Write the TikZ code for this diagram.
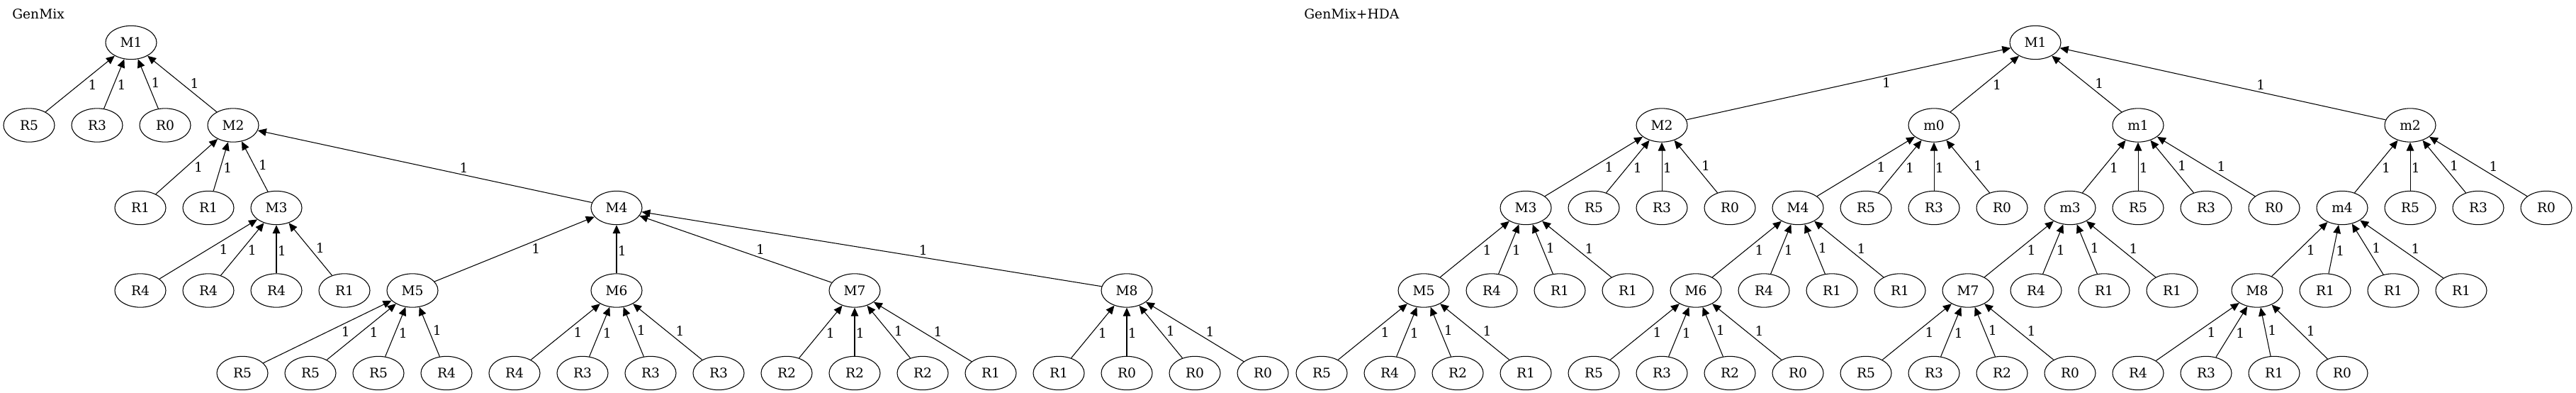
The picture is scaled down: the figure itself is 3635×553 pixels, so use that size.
\documentclass[tikz,border=0pt]{standalone}
\usepackage{fontspec}
\setmainfont{DejaVu Serif}
\usetikzlibrary{arrows.meta, shapes.geometric}
\tikzstyle{gNode} = [ellipse, draw=black, line width=0.8pt, minimum width=54pt, minimum height=35.5pt, inner sep=0pt, font=\fontsize{14pt}{17pt}\selectfont]
\tikzstyle{gTitle} = [anchor=west, inner sep=0pt, font=\fontsize{14pt}{17pt}\selectfont]
\tikzstyle{gArrow} = [line width=0.8pt, -{Triangle[length=9pt, width=8pt]}]
\tikzstyle{lblR} = [pos=0.6, anchor=north west, inner sep=1pt, font=\fontsize{14pt}{17pt}\selectfont]
\tikzstyle{lblL} = [pos=0.4, anchor=south west, inner sep=1pt, font=\fontsize{14pt}{17pt}\selectfont]
\begin{document}
\begin{tikzpicture}[x=0.75pt, y=-0.75pt, node distance=72pt]
    \useasboundingbox (0,0) rectangle (3635,553);

    \node (gTitleNode) [gTitle] at (17,20) {GenMix};
    \node (gM1) [gNode] at (185,60) {M1};
    \node (gM1r5) [gNode] at (41,176.5) {R5};
    \node (gM1r3) [gNode, right of=gM1r5] {R3};
    \node (gM1r0) [gNode, right of=gM1r3] {R0};
    \node (gM2) [gNode, right of=gM1r0] {M2};
    \node (gM2r1a) [gNode] at (198,293) {R1};
    \node (gM2r1b) [gNode, right of=gM2r1a] {R1};
    \node (gM3) [gNode, right of=gM2r1b] {M3};
    \node (gM4) [gNode] at (870,293) {M4};
    \node (gM3r4a) [gNode] at (198,409.5) {R4};
    \node (gM3r4b) [gNode, right of=gM3r4a] {R4};
    \node (gM3r4c) [gNode, right of=gM3r4b] {R4};
    \node (gM3r1) [gNode, right of=gM3r4c] {R1};
    \node (gM5) [gNode, right of=gM3r1] {M5};
    \node (gM6) [gNode] at (870,409.5) {M6};
    \node (gM7) [gNode] at (1206,409.5) {M7};
    \node (gM8) [gNode] at (1590,409.5) {M8};
    \node (gM5r5a) [gNode] at (342,526) {R5};
    \node (gM5r5b) [gNode, right of=gM5r5a] {R5};
    \node (gM5r5c) [gNode, right of=gM5r5b] {R5};
    \node (gM5r4) [gNode, right of=gM5r5c] {R4};
    \node (gM6r4) [gNode, right of=gM5r4] {R4};
    \node (gM6r3a) [gNode, right of=gM6r4] {R3};
    \node (gM6r3b) [gNode, right of=gM6r3a] {R3};
    \node (gM6r3c) [gNode, right of=gM6r3b] {R3};
    \node (gM7r2a) [gNode, right of=gM6r3c] {R2};
    \node (gM7r2b) [gNode, right of=gM7r2a] {R2};
    \node (gM7r2c) [gNode, right of=gM7r2b] {R2};
    \node (gM7r1) [gNode, right of=gM7r2c] {R1};
    \node (gM8r1) [gNode, right of=gM7r1] {R1};
    \node (gM8r0a) [gNode, right of=gM8r1] {R0};
    \node (gM8r0b) [gNode, right of=gM8r0a] {R0};
    \node (gM8r0c) [gNode, right of=gM8r0b] {R0};

    \node (hTitleNode) [gTitle] at (1840,20) {GenMix+HDA};
    \node (hM1) [gNode] at (2872,60) {M1};
    \node (hM2) [gNode] at (2345,176.5) {M2};
    \node (hm0) [gNode] at (2729,176.5) {m0};
    \node (hm1) [gNode] at (3017,176.5) {m1};
    \node (hm2) [gNode] at (3401,176.5) {m2};
    \node (hM3) [gNode] at (2153,293) {M3};
    \node (hM2r5) [gNode, right of=hM3] {R5};
    \node (hM2r3) [gNode, right of=hM2r5] {R3};
    \node (hM2r0) [gNode, right of=hM2r3] {R0};
    \node (hM4) [gNode, right of=hM2r0] {M4};
    \node (hm0r5) [gNode, right of=hM4] {R5};
    \node (hm0r3) [gNode, right of=hm0r5] {R3};
    \node (hm0r0) [gNode, right of=hm0r3] {R0};
    \node (hm3) [gNode, right of=hm0r0] {m3};
    \node (hm1r5) [gNode, right of=hm3] {R5};
    \node (hm1r3) [gNode, right of=hm1r5] {R3};
    \node (hm1r0) [gNode, right of=hm1r3] {R0};
    \node (hm4) [gNode, right of=hm1r0] {m4};
    \node (hm2r5) [gNode, right of=hm4] {R5};
    \node (hm2r3) [gNode, right of=hm2r5] {R3};
    \node (hm2r0) [gNode, right of=hm2r3] {R0};
    \node (hM5) [gNode] at (2009,409.5) {M5};
    \node (hM3r4) [gNode, right of=hM5] {R4};
    \node (hM3r1a) [gNode, right of=hM3r4] {R1};
    \node (hM3r1b) [gNode, right of=hM3r1a] {R1};
    \node (hM6) [gNode, right of=hM3r1b] {M6};
    \node (hM4r4) [gNode, right of=hM6] {R4};
    \node (hM4r1a) [gNode, right of=hM4r4] {R1};
    \node (hM4r1b) [gNode, right of=hM4r1a] {R1};
    \node (hM7) [gNode, right of=hM4r1b] {M7};
    \node (hm3r4) [gNode, right of=hM7] {R4};
    \node (hm3r1a) [gNode, right of=hm3r4] {R1};
    \node (hm3r1b) [gNode, right of=hm3r1a] {R1};
    \node (hM8) [gNode] at (3185,409.5) {M8};
    \node (hm4r1a) [gNode, right of=hM8] {R1};
    \node (hm4r1b) [gNode, right of=hm4r1a] {R1};
    \node (hm4r1c) [gNode, right of=hm4r1b] {R1};
    \node (hM5r5) [gNode] at (1865,526) {R5};
    \node (hM5r4) [gNode, right of=hM5r5] {R4};
    \node (hM5r2) [gNode, right of=hM5r4] {R2};
    \node (hM5r1) [gNode, right of=hM5r2] {R1};
    \node (hM6r5) [gNode, right of=hM5r1] {R5};
    \node (hM6r3) [gNode, right of=hM6r5] {R3};
    \node (hM6r2) [gNode, right of=hM6r3] {R2};
    \node (hM6r0) [gNode, right of=hM6r2] {R0};
    \node (hM7r5) [gNode, right of=hM6r0] {R5};
    \node (hM7r3) [gNode, right of=hM7r5] {R3};
    \node (hM7r2) [gNode, right of=hM7r3] {R2};
    \node (hM7r0) [gNode, right of=hM7r2] {R0};
    \node (hM8r4) [gNode, right of=hM7r0] {R4};
    \node (hM8r3) [gNode, right of=hM8r4] {R3};
    \node (hM8r1) [gNode, right of=hM8r3] {R1};
    \node (hM8r0) [gNode, right of=hM8r1] {R0};

    \draw [gArrow] (gM1r5) -- node[lblR] {1} (gM1);
    \draw [gArrow] (gM1r3) -- node[lblR] {1} (gM1);
    \draw [gArrow] (gM1r0) -- node[lblL] {1} (gM1);
    \draw [gArrow] (gM2) -- node[lblL] {1} (gM1);
    \draw [gArrow] (gM2r1a) -- node[lblR] {1} (gM2);
    \draw [gArrow] (gM2r1b) -- node[lblR] {1} (gM2);
    \draw [gArrow] (gM3) -- node[lblL] {1} (gM2);
    \draw [gArrow] (gM4) -- node[lblL] {1} (gM2);
    \draw [gArrow] (gM3r4a) -- node[lblR] {1} (gM3);
    \draw [gArrow] (gM3r4b) -- node[lblR] {1} (gM3);
    \draw [gArrow] (gM3r4c) -- node[lblR] {1} (gM3);
    \draw [gArrow] (gM3r1) -- node[lblL] {1} (gM3);
    \draw [gArrow] (gM5) -- node[lblR] {1} (gM4);
    \draw [gArrow] (gM6) -- node[lblR] {1} (gM4);
    \draw [gArrow] (gM7) -- node[lblL] {1} (gM4);
    \draw [gArrow] (gM8) -- node[lblL] {1} (gM4);
    \draw [gArrow] (gM5r5a) -- node[lblR] {1} (gM5);
    \draw [gArrow] (gM5r5b) -- node[lblR] {1} (gM5);
    \draw [gArrow] (gM5r5c) -- node[lblR] {1} (gM5);
    \draw [gArrow] (gM5r4) -- node[lblL] {1} (gM5);
    \draw [gArrow] (gM6r4) -- node[lblR] {1} (gM6);
    \draw [gArrow] (gM6r3a) -- node[lblR] {1} (gM6);
    \draw [gArrow] (gM6r3b) -- node[lblL] {1} (gM6);
    \draw [gArrow] (gM6r3c) -- node[lblL] {1} (gM6);
    \draw [gArrow] (gM7r2a) -- node[lblR] {1} (gM7);
    \draw [gArrow] (gM7r2b) -- node[lblR] {1} (gM7);
    \draw [gArrow] (gM7r2c) -- node[lblL] {1} (gM7);
    \draw [gArrow] (gM7r1) -- node[lblL] {1} (gM7);
    \draw [gArrow] (gM8r1) -- node[lblR] {1} (gM8);
    \draw [gArrow] (gM8r0a) -- node[lblR] {1} (gM8);
    \draw [gArrow] (gM8r0b) -- node[lblL] {1} (gM8);
    \draw [gArrow] (gM8r0c) -- node[lblL] {1} (gM8);

    \draw [gArrow] (hM2) -- node[lblR] {1} (hM1);
    \draw [gArrow] (hm0) -- node[lblR] {1} (hM1);
    \draw [gArrow] (hm1) -- node[lblL] {1} (hM1);
    \draw [gArrow] (hm2) -- node[lblL] {1} (hM1);
    \draw [gArrow] (hM3) -- node[lblR] {1} (hM2);
    \draw [gArrow] (hM2r5) -- node[lblR] {1} (hM2);
    \draw [gArrow] (hM2r3) -- node[lblR] {1} (hM2);
    \draw [gArrow] (hM2r0) -- node[lblL] {1} (hM2);
    \draw [gArrow] (hM4) -- node[lblR] {1} (hm0);
    \draw [gArrow] (hm0r5) -- node[lblR] {1} (hm0);
    \draw [gArrow] (hm0r3) -- node[lblR] {1} (hm0);
    \draw [gArrow] (hm0r0) -- node[lblL] {1} (hm0);
    \draw [gArrow] (hm3) -- node[lblR] {1} (hm1);
    \draw [gArrow] (hm1r5) -- node[lblR] {1} (hm1);
    \draw [gArrow] (hm1r3) -- node[lblL] {1} (hm1);
    \draw [gArrow] (hm1r0) -- node[lblL] {1} (hm1);
    \draw [gArrow] (hm4) -- node[lblR] {1} (hm2);
    \draw [gArrow] (hm2r5) -- node[lblR] {1} (hm2);
    \draw [gArrow] (hm2r3) -- node[lblL] {1} (hm2);
    \draw [gArrow] (hm2r0) -- node[lblL] {1} (hm2);
    \draw [gArrow] (hM5) -- node[lblR] {1} (hM3);
    \draw [gArrow] (hM3r4) -- node[lblR] {1} (hM3);
    \draw [gArrow] (hM3r1a) -- node[lblL] {1} (hM3);
    \draw [gArrow] (hM3r1b) -- node[lblL] {1} (hM3);
    \draw [gArrow] (hM6) -- node[lblR] {1} (hM4);
    \draw [gArrow] (hM4r4) -- node[lblR] {1} (hM4);
    \draw [gArrow] (hM4r1a) -- node[lblL] {1} (hM4);
    \draw [gArrow] (hM4r1b) -- node[lblL] {1} (hM4);
    \draw [gArrow] (hM7) -- node[lblR] {1} (hm3);
    \draw [gArrow] (hm3r4) -- node[lblR] {1} (hm3);
    \draw [gArrow] (hm3r1a) -- node[lblL] {1} (hm3);
    \draw [gArrow] (hm3r1b) -- node[lblL] {1} (hm3);
    \draw [gArrow] (hM8) -- node[lblR] {1} (hm4);
    \draw [gArrow] (hm4r1a) -- node[lblR] {1} (hm4);
    \draw [gArrow] (hm4r1b) -- node[lblL] {1} (hm4);
    \draw [gArrow] (hm4r1c) -- node[lblL] {1} (hm4);
    \draw [gArrow] (hM5r5) -- node[lblR] {1} (hM5);
    \draw [gArrow] (hM5r4) -- node[lblR] {1} (hM5);
    \draw [gArrow] (hM5r2) -- node[lblL] {1} (hM5);
    \draw [gArrow] (hM5r1) -- node[lblL] {1} (hM5);
    \draw [gArrow] (hM6r5) -- node[lblR] {1} (hM6);
    \draw [gArrow] (hM6r3) -- node[lblR] {1} (hM6);
    \draw [gArrow] (hM6r2) -- node[lblL] {1} (hM6);
    \draw [gArrow] (hM6r0) -- node[lblL] {1} (hM6);
    \draw [gArrow] (hM7r5) -- node[lblR] {1} (hM7);
    \draw [gArrow] (hM7r3) -- node[lblR] {1} (hM7);
    \draw [gArrow] (hM7r2) -- node[lblL] {1} (hM7);
    \draw [gArrow] (hM7r0) -- node[lblL] {1} (hM7);
    \draw [gArrow] (hM8r4) -- node[lblR] {1} (hM8);
    \draw [gArrow] (hM8r3) -- node[lblR] {1} (hM8);
    \draw [gArrow] (hM8r1) -- node[lblL] {1} (hM8);
    \draw [gArrow] (hM8r0) -- node[lblL] {1} (hM8);
\end{tikzpicture}
\end{document}
